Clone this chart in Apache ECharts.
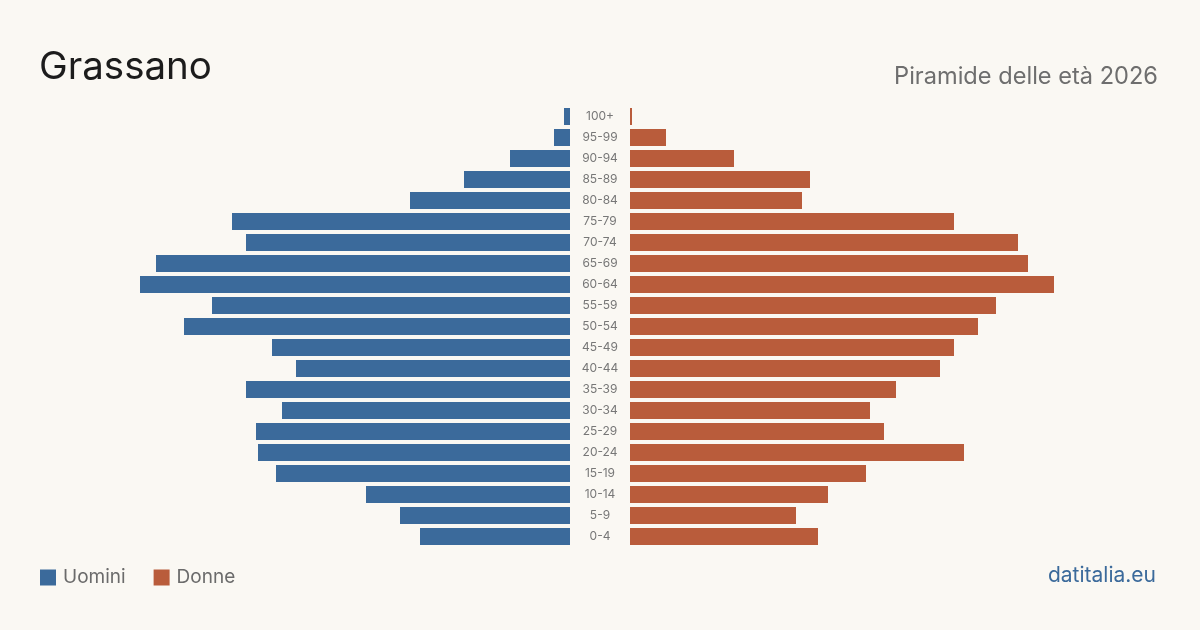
<!DOCTYPE html>
<html lang="it">
  <head>
    <meta charset="UTF-8" />
    <title>Grassano - piramide delle età</title>
    <style>
      body, html {
        margin: 0;
        width: 100%;
        height: 100%;
        background: #faf8f3;
      }
    </style>
  </head>
  <body>
    <div id="main" style="width:1200px;height:630px;"></div>

    <script src="https://cdn.jsdelivr.net/npm/echarts@6/dist/echarts.min.js"></script>
    <script>
      // classi di età, dall'alto verso il basso
      const ageClasses = [
        '100+', '95-99', '90-94', '85-89', '80-84', '75-79', '70-74',
        '65-69', '60-64', '55-59', '50-54', '45-49', '40-44', '35-39',
        '30-34', '25-29', '20-24', '15-19', '10-14', '5-9', '0-4',
      ];
      const uomini = [3, 8, 30, 53, 80, 169, 162, 207, 215, 179, 193, 149, 137, 162, 144, 157, 156, 147, 102, 85, 75];
      const donne = [1, 18, 52, 90, 86, 162, 194, 199, 212, 183, 174, 162, 155, 133, 120, 127, 167, 118, 99, 83, 94];

      const BLUE = '#3b6a9b';
      const ORANGE = '#b95c3b';
      const FONT = 'Inter, "Noto Sans", sans-serif';

      const myChart = echarts.init(document.getElementById('main'));

      const option = {
        backgroundColor: '#faf8f3',
        textStyle: { fontFamily: FONT },
        animation: false,
        title: [
          {
            text: 'Grassano',
            left: 39,
            top: 48,
            padding: 0,
            textStyle: { fontSize: 38.5, fontWeight: 'normal', color: '#1c1c1c', fontFamily: FONT },
          },
          {
            text: 'Piramide delle età 2026',
            right: 42,
            top: 65,
            padding: 0,
            textStyle: { fontSize: 23.6, fontWeight: 'normal', color: '#6e6e6e', fontFamily: FONT },
          },
          {
            text: 'datitalia.eu',
            right: 44,
            top: 565,
            padding: 0,
            textStyle: { fontSize: 21, fontWeight: 'normal', color: '#3b6a9b', fontFamily: FONT },
          },
        ],
        legend: {
          left: 40,
          top: 568,
          padding: 0,
          itemWidth: 16,
          itemHeight: 16,
          itemGap: 28,
          icon: 'rect',
          textStyle: { fontSize: 19, color: '#6b6b6b', fontFamily: FONT, padding: [0, 0, 0, 2] },
          data: ['Uomini', 'Donne'],
        },
        grid: [
          { left: 70, right: 630, top: 106, height: 441 },
          { left: 630, right: 70, top: 106, height: 441 },
        ],
        xAxis: [
          { gridIndex: 0, type: 'value', min: 0, max: 250, inverse: true, show: false },
          { gridIndex: 1, type: 'value', min: 0, max: 250, show: false },
        ],
        yAxis: [
          {
            gridIndex: 0,
            type: 'category',
            data: ageClasses,
            inverse: true,
            position: 'right',
            axisLine: { show: false },
            axisTick: { show: false },
            axisLabel: { align: 'center', margin: 30, fontSize: 12, color: '#777', fontFamily: FONT, lineHeight: 14, padding: [3, 0, 0, 0] },
          },
          {
            gridIndex: 1,
            type: 'category',
            data: ageClasses,
            inverse: true,
            show: false,
          },
        ],
        series: [
          {
            name: 'Uomini',
            type: 'bar',
            xAxisIndex: 0,
            yAxisIndex: 0,
            barWidth: 17,
            itemStyle: { color: BLUE },
            data: uomini,
          },
          {
            name: 'Donne',
            type: 'bar',
            xAxisIndex: 1,
            yAxisIndex: 1,
            barWidth: 17,
            itemStyle: { color: ORANGE },
            data: donne,
          },
        ],
      };

      myChart.setOption(option);
    </script>
  </body>
</html>
